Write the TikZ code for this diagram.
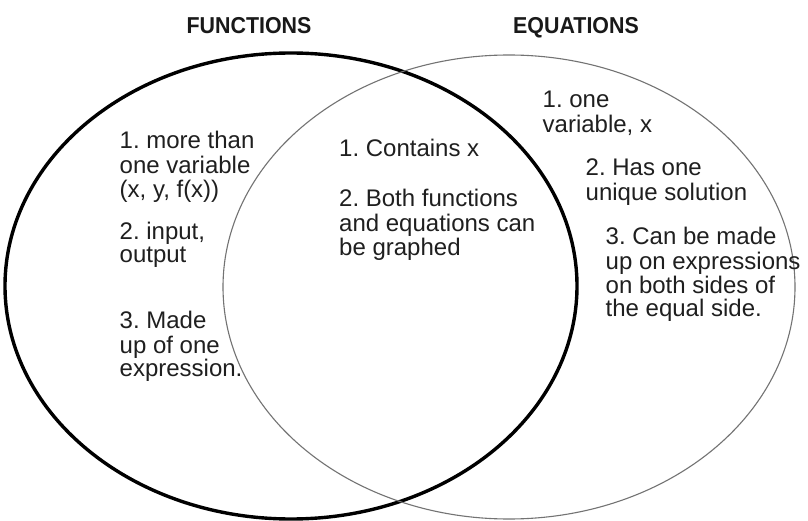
\documentclass[tikz,border=0pt]{standalone}
\usepackage{fontspec}
\setmainfont{Liberation Sans}
\begin{document}
\frenchspacing
\begin{tikzpicture}[x=1pt,y=-1pt,
  txt/.style={anchor=north west,yshift=16.38pt,align=left,inner sep=0pt,font=\fontsize{24}{23.4}\selectfont\frenchspacing,text=black!88},
  ttl/.style={anchor=base,inner sep=0pt,xscale=0.93,transform shape,font=\fontsize{23}{24}\selectfont\bfseries,text=black!90}]
\useasboundingbox[fill=white] (0,0) rectangle (808,521);
\draw[line width=3.4pt,black] (291,286) ellipse [x radius=286,y radius=233];
\draw[line width=1.1pt,black!55] (509,287) ellipse [x radius=286,y radius=232];
\node[ttl] (tf) at (249,34) {FUNCTIONS};
\node[ttl] (te) at (576,34) {EQUATIONS};
\node[txt] (f1) at (119.5,147) {\strut 1. more than\\one variable\\(x, y, f(x))};
\node[txt] (f2) at (119.5,238) {\strut 2. input,\\output};
\node[txt] (f3) at (119.5,327) {\strut 3. Made\\up of one\\expression.};
\node[txt] (b1) at (339,155) {\strut 1. Contains x};
\node[txt] (b2) at (339,205) {\strut 2. Both functions\\and equations can\\be graphed};
\node[txt] (e1) at (542.5,107) {\strut 1. one\\variable, x};
\node[txt] (e2) at (585.5,175) {\strut 2. Has one\\unique solution};
\node[txt] (e3) at (605.5,243) {\strut 3. Can be made\\up on expressions\\on both sides of\\the equal side.};
\end{tikzpicture}
\end{document}
